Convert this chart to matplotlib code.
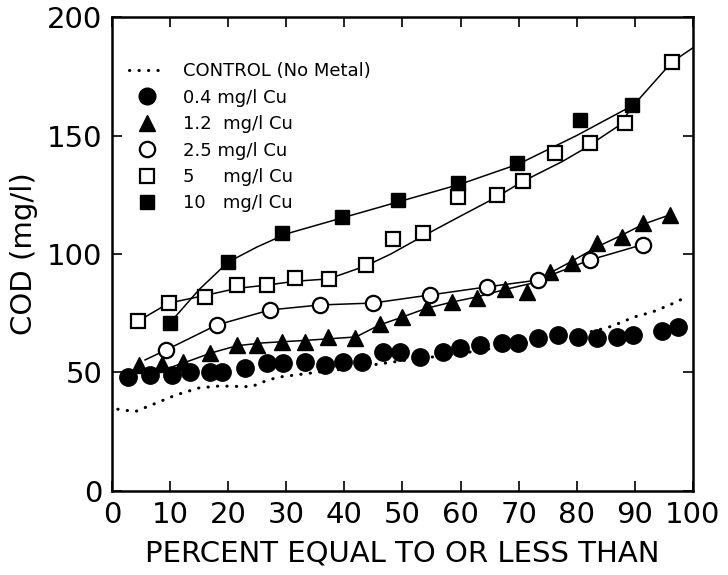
import matplotlib
matplotlib.use("Agg")
import matplotlib.pyplot as plt
from matplotlib.lines import Line2D

# ---------------- data ----------------
# Control (no metal) dotted curve
ctrl_x = [1, 4, 7.5, 11, 15, 18.5, 24, 26, 28.5, 35, 40, 50, 60, 70, 75, 80, 83, 86, 90, 93, 96, 99]
ctrl_y = [34.5, 33.5, 37, 40.5, 43.5, 44.3, 44, 46, 48, 50, 51.5, 55, 58, 62, 64, 66, 67.5, 69.5, 73.5, 75.5, 78.5, 82]

# 0.4 mg/l Cu (filled circles)
cu04_x = [2.8, 6.5, 10.3, 13.4, 16.9, 18.9, 22.9, 26.7, 29.4, 33.2, 36.7, 39.8, 43.0, 46.6, 49.6,
          53.0, 57.0, 59.9, 63.3, 67.1, 69.9, 73.3, 76.8, 80.2, 83.5, 86.9, 89.7, 94.7, 97.4]
cu04_y = [48.1, 48.9, 48.9, 50.2, 50.2, 50.2, 51.9, 54.0, 54.0, 54.4, 53.2, 54.4, 54.4, 58.6, 58.6,
          56.5, 58.6, 60.3, 61.6, 62.4, 62.4, 64.6, 65.8, 65.0, 64.6, 65.0, 65.8, 67.5, 69.2]

# 1.2 mg/l Cu (filled triangles)
cu12_x = [4.6, 8.6, 12.2, 16.9, 21.5, 24.9, 29.3, 33.2, 37.2, 41.8, 46.1, 49.9, 54.2, 58.5, 62.8,
          67.6, 71.4, 75.4, 79.2, 83.5, 87.8, 91.4, 96.0]
cu12_y = [53.2, 53.5, 54.5, 58.2, 61.6, 61.6, 62.9, 62.9, 65.0, 64.6, 70.5, 73.4, 77.6, 79.7, 81.4,
          85.2, 84.0, 92.4, 96.2, 104.6, 107.2, 113.1, 116.5]
cu12_fit_x = [10.5, 14, 17, 21.5, 26, 33, 42, 46, 50, 54, 58.5, 63, 67.6, 72, 75.4, 79.2, 83.5, 87.8, 91.4, 96]
cu12_fit_y = [52.5, 55.5, 58.2, 61.3, 62.5, 63.5, 65, 70, 73.4, 77, 79.7, 82, 85, 87.5, 92, 97, 103, 108, 112.5, 116.5]

# 2.5 mg/l Cu (open circles)
cu25_x = [9.3, 18.0, 27.2, 35.8, 44.9, 54.7, 64.5, 73.3, 82.3, 91.4]
cu25_y = [59.5, 70.0, 76.4, 78.5, 79.3, 82.7, 86.1, 89.0, 97.5, 104.0]
cu25_fit_x = [5.7, 9.3, 18.0, 27.2, 35.8, 44.9, 54.7, 64.5, 73.3, 82.3, 91.4]
cu25_fit_y = [55.3, 59.5, 70.0, 76.4, 78.5, 79.3, 82.7, 86.1, 89.0, 97.5, 104.0]

# 5 mg/l Cu (open squares)
cu5_x = [4.5, 9.8, 16.0, 21.5, 26.7, 31.5, 37.3, 43.7, 48.4, 53.5, 59.5, 66.2, 70.7, 76.2, 82.3, 88.3, 96.4]
cu5_y = [71.7, 79.3, 81.9, 86.9, 86.9, 89.9, 89.5, 95.4, 106.5, 108.9, 124.0, 124.9, 131.0, 142.6, 146.8, 155.3, 181.0]
cu5_fit_x = [4.5, 9.8, 16, 21.5, 26.7, 31.5, 37.3, 43.7, 48, 53.5, 60, 66.2, 70.6, 77.5, 81, 87.4, 89.5, 96.4, 100]
cu5_fit_y = [71.7, 79.3, 82.5, 85.5, 86.9, 88.5, 89.5, 95, 100, 107.5, 116, 124, 130.5, 139, 144, 154.4, 162, 181, 187]

# 10 mg/l Cu (filled squares)
cu10_x = [10.0, 20.0, 29.3, 39.6, 49.2, 59.5, 69.7, 80.5, 89.5]
cu10_y = [70.9, 96.6, 108.9, 115.6, 122.8, 130.0, 138.4, 156.5, 162.9]
cu10_fit_x = [10, 15, 20, 25, 30, 40, 50, 60, 70, 80, 89.5]
cu10_fit_y = [71, 85, 96.6, 103, 108.5, 115.5, 122.5, 129.5, 138, 150, 162.5]

x_ticks = [0, 10, 20, 30, 40, 50, 60, 70, 80, 90, 100]
y_ticks = [0, 50, 100, 150, 200]

labels = ["CONTROL (No Metal)", "0.4 mg/l Cu", "1.2  mg/l Cu", "2.5 mg/l Cu",
          "5     mg/l Cu", "10   mg/l Cu"]

# ---------------- figure ----------------
plt.rcParams['font.family'] = ['DejaVu Sans']
fig = plt.figure(figsize=(7.28, 5.75), dpi=100)
ax = fig.add_axes([0.1538, 0.1461, 0.798, 0.8243])

lw = 1.1
ms = 11
mew = 1.6
dot_style = (0, (0.1, 3.0))

# fitted curves
ax.plot(ctrl_x, ctrl_y, color='black', lw=2.2, linestyle=dot_style,
        dash_capstyle='round', zorder=2)
ax.plot(cu12_fit_x, cu12_fit_y, color='black', lw=lw, zorder=2)
ax.plot(cu25_fit_x, cu25_fit_y, color='black', lw=lw, zorder=2)
ax.plot(cu5_fit_x, cu5_fit_y, color='black', lw=lw, zorder=2)
ax.plot(cu10_fit_x, cu10_fit_y, color='black', lw=lw, zorder=2)

# markers
ax.plot(cu04_x, cu04_y, 'o', ms=ms + 1.5, color='black', zorder=3)
ax.plot(cu12_x, cu12_y, '^', ms=ms, color='black', zorder=3)
ax.plot(cu25_x, cu25_y, 'o', ms=ms, mfc='white', mec='black', mew=mew, zorder=4)
ax.plot(cu5_x, cu5_y, 's', ms=ms - 0.5, mfc='white', mec='black', mew=mew, zorder=4)
ax.plot(cu10_x, cu10_y, 's', ms=ms - 0.5, color='black', zorder=5)

# legend
handles = [
    Line2D([], [], color='black', lw=2.2, linestyle=dot_style, dash_capstyle='round'),
    Line2D([], [], marker='o', ls='none', ms=ms + 1, color='black'),
    Line2D([], [], marker='^', ls='none', ms=ms, color='black'),
    Line2D([], [], marker='o', ls='none', ms=ms, mfc='white', mec='black', mew=mew),
    Line2D([], [], marker='s', ls='none', ms=ms - 0.5, mfc='white', mec='black', mew=mew),
    Line2D([], [], marker='s', ls='none', ms=ms - 0.5, color='black'),
]
leg = ax.legend(handles, labels, loc='upper left', bbox_to_anchor=(0.029, 0.905),
                frameon=False, fontsize=13, handlelength=2.0, handletextpad=1.0,
                labelspacing=0.47, borderpad=0, borderaxespad=0, numpoints=1)

ax.set_xlim(0, 100)
ax.set_ylim(0, 200)
ax.set_xticks(x_ticks)
ax.set_yticks(y_ticks)
ax.set_xticklabels([str(v) for v in x_ticks])
ax.set_yticklabels([str(v) for v in y_ticks])
ax.tick_params(direction='in', length=7, width=1.2, top=True, right=True,
               labelsize=21, pad=7, colors='black')
for s in ax.spines.values():
    s.set_linewidth(1.8)

ax.set_xlabel("PERCENT EQUAL TO OR LESS THAN", fontsize=21, labelpad=8)
ax.set_ylabel("COD (mg/l)", fontsize=21)
ax.yaxis.set_label_coords(-0.128, 0.5)

fig.savefig("out.png", dpi=100)
